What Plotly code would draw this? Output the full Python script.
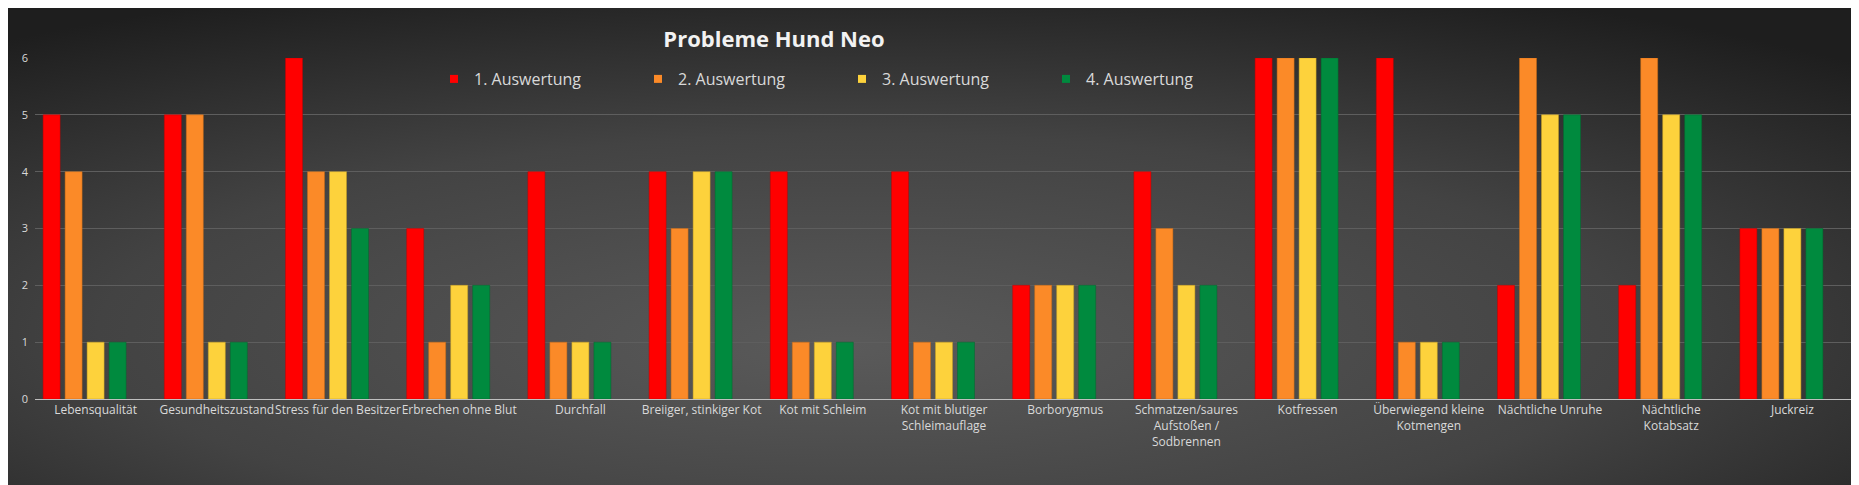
import base64
import plotly.graph_objects as go

categories = [
    "Lebensqualität",
    "Gesundheitszustand",
    "Stress für den Besitzer",
    "Erbrechen ohne Blut",
    "Durchfall",
    "Breiiger, stinkiger Kot",
    "Kot mit Schleim",
    "Kot mit blutiger<br>Schleimauflage",
    "Borborygmus",
    "Schmatzen/saures<br>Aufstoßen /<br>Sodbrennen",
    "Kotfressen",
    "Überwiegend kleine<br>Kotmengen",
    "Nächtliche Unruhe",
    "Nächtliche<br>Kotabsatz",
    "Juckreiz",
]

series_names = ["1. Auswertung", "2. Auswertung", "3. Auswertung", "4. Auswertung"]
auswertung_1 = [5, 5, 6, 3, 4, 4, 4, 4, 2, 4, 6, 6, 2, 2, 3]
auswertung_2 = [4, 5, 4, 1, 1, 3, 1, 1, 2, 3, 6, 1, 6, 6, 3]
auswertung_3 = [1, 1, 4, 2, 1, 4, 1, 1, 2, 2, 6, 1, 5, 5, 3]
auswertung_4 = [1, 1, 3, 2, 1, 4, 1, 1, 2, 2, 6, 1, 5, 5, 3]
y_ticks = [0, 1, 2, 3, 4, 5, 6]

colors = ["#FF0000", "#FB8A28", "#FDD23C", "#008A3E"]
line_colors = ["#C00000", "#C86A14", "#C9A020", "#006A2E"]

W, H = 1859, 485
L, R, T, B = 27, 14, 50, 94
pw, ph = W - L - R, H - T - B

FONT = "Open Sans"

# group layout of the source: 5 slots per category (last one empty)
SLOTS = 5
GROUP_W = 0.9076          # fraction of a category used by the group
SLOT_W = GROUP_W / SLOTS
BAR_W = SLOT_W * 0.773

fig = go.Figure()
for i, (name, vals, c, lc) in enumerate(zip(series_names,
                                            [auswertung_1, auswertung_2, auswertung_3, auswertung_4],
                                            colors, line_colors)):
    slot_center = -GROUP_W / 2 + (i + 0.5) * SLOT_W
    fig.add_trace(go.Bar(
        x=categories, y=vals, name=name, showlegend=False,
        width=BAR_W, offset=slot_center - BAR_W / 2,
        marker=dict(color=c, line=dict(color=lc, width=0.5)),
    ))
# legend entries with small square keys
for name, c in zip(series_names, colors):
    fig.add_trace(go.Scatter(
        x=[None], y=[None], name=name, mode="markers",
        marker=dict(symbol="square", size=8, color=c),
    ))

svg = f'''<svg xmlns="http://www.w3.org/2000/svg" width="{W}" height="{H}" viewBox="0 0 {W} {H}" preserveAspectRatio="none">
<defs><radialGradient id="g" cx="47%" cy="65%" r="75%" fx="45%" fy="70%" gradientUnits="objectBoundingBox">
<stop offset="0" stop-color="#5a5a5a"/><stop offset="0.55" stop-color="#434343"/><stop offset="1" stop-color="#1e1e1e"/>
</radialGradient></defs>
<rect x="0" y="0" width="{W}" height="{H}" fill="url(#g)"/></svg>'''
src = "data:image/svg+xml;base64," + base64.b64encode(svg.encode()).decode()

fig.update_layout(
    width=W, height=H,
    margin=dict(l=L, r=R, t=T, b=B, pad=0, autoexpand=False),
    paper_bgcolor="#333333",
    plot_bgcolor="rgba(0,0,0,0)",
    barmode="overlay",
    font=dict(family=FONT, color="#D9D9D9", size=12),
    title=dict(text="<b>Probleme Hund Neo</b>", x=766 / W, xanchor="center", xref="container",
               y=1 - 31 / H, yanchor="middle", yref="container",
               font=dict(family=FONT, size=22, color="#F2F2F2")),
    legend=dict(orientation="h", xref="paper", yref="paper",
                x=(426 - L) / pw, xanchor="left", y=1 - (71 - T) / ph, yanchor="middle",
                entrywidth=159, entrywidthmode="pixels",
                font=dict(family=FONT, size=16, color="#D9D9D9"),
                bgcolor="rgba(0,0,0,0)", itemwidth=30, tracegroupgap=0),
    images=[dict(source=src, xref="paper", yref="paper",
                 x=-L / pw, y=1 + T / ph, sizex=W / pw, sizey=H / ph,
                 xanchor="left", yanchor="top", sizing="stretch", layer="below")],
    showlegend=True,
)
fig.update_xaxes(showgrid=False, showline=True, linecolor="#BFBFBF", linewidth=1,
                 ticks="", tickfont=dict(size=12, color="#D9D9D9"), tickangle=0,
                 ticklabelstandoff=0, automargin=False)
fig.update_yaxes(range=[0, 6], tickvals=y_ticks, showgrid=True, gridcolor="#5E5E5E",
                 gridwidth=1, zeroline=False, showline=False, ticks="",
                 ticklabelstandoff=6,
                 tickfont=dict(size=11, color="#D9D9D9"), automargin=False)

fig.write_html("out.html")
